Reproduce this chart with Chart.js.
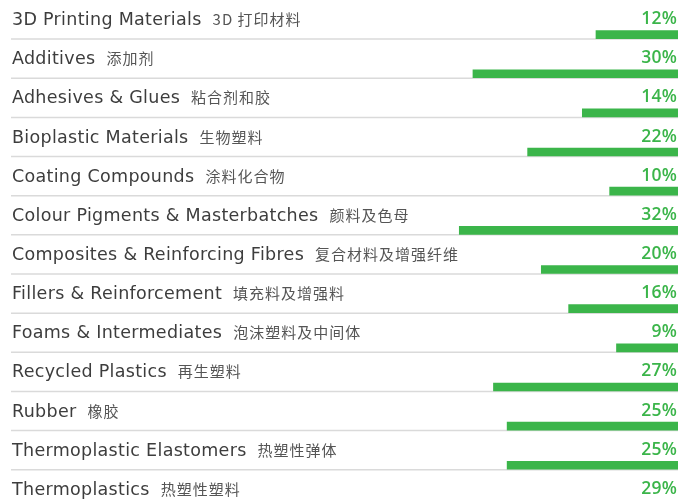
<!DOCTYPE html>
<html>
<head>
<meta charset="utf-8">
<script src="https://cdn.jsdelivr.net/npm/chart.js@4/dist/chart.umd.min.js"></script>
<style>
  html, body { margin: 0; padding: 0; background: #fff; overflow: hidden; }
  #wrap { width: 692px; height: 499px; overflow: hidden; }
</style>
</head>
<body>
<div id="wrap"><canvas id="chart" width="692" height="524"></canvas></div>
<script>
// rows of the chart
const labelsEn = [
  '3D Printing Materials', 'Additives', 'Adhesives & Glues', 'Bioplastic Materials',
  'Coating Compounds', 'Colour Pigments & Masterbatches', 'Composites & Reinforcing Fibres',
  'Fillers & Reinforcement', 'Foams & Intermediates', 'Recycled Plastics', 'Rubber',
  'Thermoplastic Elastomers', 'Thermoplastics'
];
const labelsZh = [
  '3D 打印材料', '添加剂', '粘合剂和胶', '生物塑料', '涂料化合物', '颜料及色母',
  '复合材料及增强纤维', '填充料及增强料', '泡沫塑料及中间体', '再生塑料', '橡胶',
  '热塑性弹体', '热塑性塑料'
];
const shares = [12, 30, 14, 22, 10, 32, 20, 16, 9, 27, 25, 25, 29];

const GREEN = '#3bb54a';

// separator lines + row texts
const rowText = {
  id: 'rowText',
  beforeDatasetsDraw(chart) {
    const { ctx, scales: { x, y } } = chart;
    ctx.save();
    ctx.strokeStyle = '#dadada';
    ctx.lineWidth = 1.5;
    labelsEn.forEach((_, i) => {
      const py = y.getPixelForValue(i) + 4.5;
      ctx.beginPath();
      ctx.moveTo(11, py);
      ctx.lineTo(x.getPixelForValue(0), py);
      ctx.stroke();
    });
    ctx.restore();
  },
  afterDraw(chart) {
    const { ctx, scales: { x, y } } = chart;
    ctx.save();
    ctx.textBaseline = 'alphabetic';
    labelsEn.forEach((en, i) => {
      const cy = y.getPixelForValue(i);
      ctx.textAlign = 'left';
      ctx.font = '17.5px "DejaVu Sans"';
      ctx.letterSpacing = '0.3px';
      ctx.fillStyle = '#3d3d3d';
      ctx.fillText(en, 12, cy - 9.5);
      const w = ctx.measureText(en).width;
      ctx.font = '15px "Noto Sans CJK SC"';
      ctx.letterSpacing = '1px';
      ctx.fillStyle = '#555';
      ctx.fillText(labelsZh[i], 12 + w + 11, cy - 9.5);

      ctx.textAlign = 'right';
      ctx.font = '600 17.5px "Open Sans"';
      ctx.letterSpacing = '0.2px';
      ctx.fillStyle = GREEN;
      ctx.fillText(shares[i] + '%', x.getPixelForValue(0) - 1, cy - 10.5);
    });
    ctx.restore();
  }
};

new Chart(document.getElementById('chart'), {
  type: 'bar',
  data: {
    labels: labelsEn,
    datasets: [{
      data: shares,
      backgroundColor: GREEN,
      barThickness: 8,
      borderWidth: 0
    }]
  },
  options: {
    indexAxis: 'y',
    responsive: false,
    animation: false,
    layout: { padding: { top: 15, right: 14, bottom: 0, left: 0 } },
    plugins: { legend: { display: false }, tooltip: { enabled: false } },
    scales: {
      x: { display: false, reverse: true, min: 0, max: 99.2 },
      y: { display: false }
    }
  },
  plugins: [rowText]
});
</script>
</body>
</html>
